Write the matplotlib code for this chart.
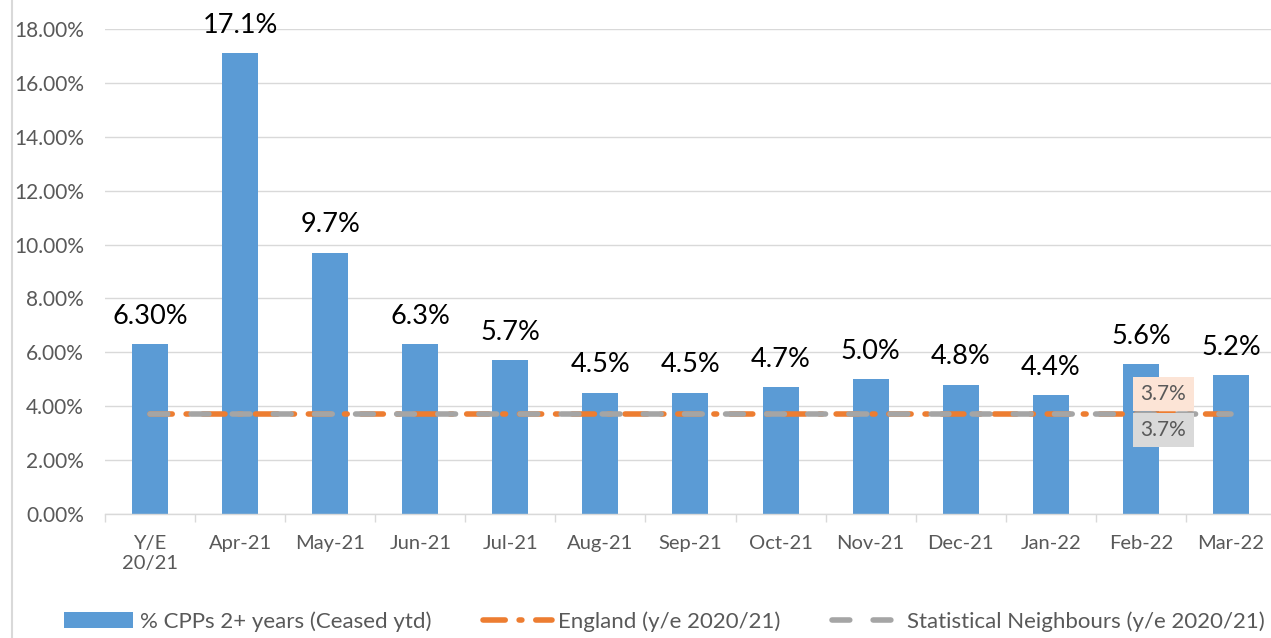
import numpy as np
import matplotlib.pyplot as plt
from matplotlib.ticker import PercentFormatter

plt.rcParams['font.family'] = ['Lato', 'DejaVu Sans']

months = ['Y/E\n20/21', 'Apr-21', 'May-21', 'Jun-21', 'Jul-21', 'Aug-21', 'Sep-21',
          'Oct-21', 'Nov-21', 'Dec-21', 'Jan-22', 'Feb-22', 'Mar-22']
ceased_pct = [6.3, 17.1, 9.7, 6.3, 5.7, 4.5, 4.5, 4.7, 5.0, 4.8, 4.4, 5.57, 5.16]
bar_labels = ['6.30%', '17.1%', '9.7%', '6.3%', '5.7%', '4.5%', '4.5%',
              '4.7%', '5.0%', '4.8%', '4.4%', '5.6%', '5.2%']
england = 3.7
stat_neighbours = 3.7

fig = plt.figure(figsize=(12.71, 6.38), dpi=100)
# light border of the chart area
fig.add_artist(plt.Line2D([0.0095, 0.0095], [0, 1], color='#d9d9d9', lw=1.5))
ax = fig.add_axes([0.0826, 0.1944, 0.9213, 0.7602])

x = np.arange(len(months))
y = np.array(ceased_pct) / 100
bars = ax.bar(x, y, width=0.4, color='#5b9bd5', zorder=2,
              label='% CPPs 2+ years (Ceased ytd)')

eng_line, = ax.plot(x, [england / 100] * len(x), color='#ed7d31', lw=4,
                    dashes=(4, 2.5, 0.5, 2.5), dash_capstyle='round', zorder=3,
                    label='England (y/e 2020/21)')
sn_line, = ax.plot(x, [stat_neighbours / 100] * len(x), color='#a5a5a5', lw=4,
                   dashes=(3.2, 4.2), dash_capstyle='round', zorder=4,
                   label='Statistical Neighbours (y/e 2020/21)')

for xi, yi, lab in zip(x, y, bar_labels):
    ax.annotate(lab, (xi, yi), xytext=(0, 11), textcoords='offset points',
                ha='center', va='bottom', fontsize=19.5, color='black',
                annotation_clip=False)

# value boxes for the two reference lines
ax.text(11.25, 0.0445, '3.7%', ha='center', va='center', fontsize=15, color='#595959',
        bbox=dict(boxstyle='square,pad=0.35', fc='#fce4d6', ec='none'), zorder=5)
ax.text(11.25, 0.0312, '3.7%', ha='center', va='center', fontsize=15, color='#595959',
        bbox=dict(boxstyle='square,pad=0.35', fc='#d9d9d9', ec='none'), zorder=5)

ax.set_xlim(-0.5, 12.5)
ax.set_ylim(0, 0.18)
ax.set_yticks(np.arange(0, 0.181, 0.02))
ax.yaxis.set_major_formatter(PercentFormatter(1.0, decimals=2))
ax.set_xticks(x)
ax.set_xticklabels(months)
ax.set_xticks(np.arange(-0.5, 12.6, 1), minor=True)
ax.tick_params(axis='x', which='major', length=0, pad=15, labelsize=14.5, colors='#595959')
ax.tick_params(axis='x', which='minor', length=6, width=1, color='#d9d9d9')
ax.tick_params(axis='y', length=0, pad=15, labelsize=15, colors='#595959')
ax.grid(axis='y', color='#d9d9d9', lw=1, zorder=0)
for s in ['top', 'right', 'left']:
    ax.spines[s].set_visible(False)
ax.spines['bottom'].set_color('#d9d9d9')
ax.spines['bottom'].set_linewidth(1)

fig.legend([bars, eng_line, sn_line],
           ['% CPPs 2+ years (Ceased ytd)', 'England (y/e 2020/21)',
            'Statistical Neighbours (y/e 2020/21)'],
           loc='lower center', bbox_to_anchor=(0.523, -0.022), ncol=3, frameon=False,
           fontsize=16, handlelength=3.1, columnspacing=2.3, handletextpad=0.3,
           labelcolor='#595959')

fig.savefig('out.png', dpi=100)
